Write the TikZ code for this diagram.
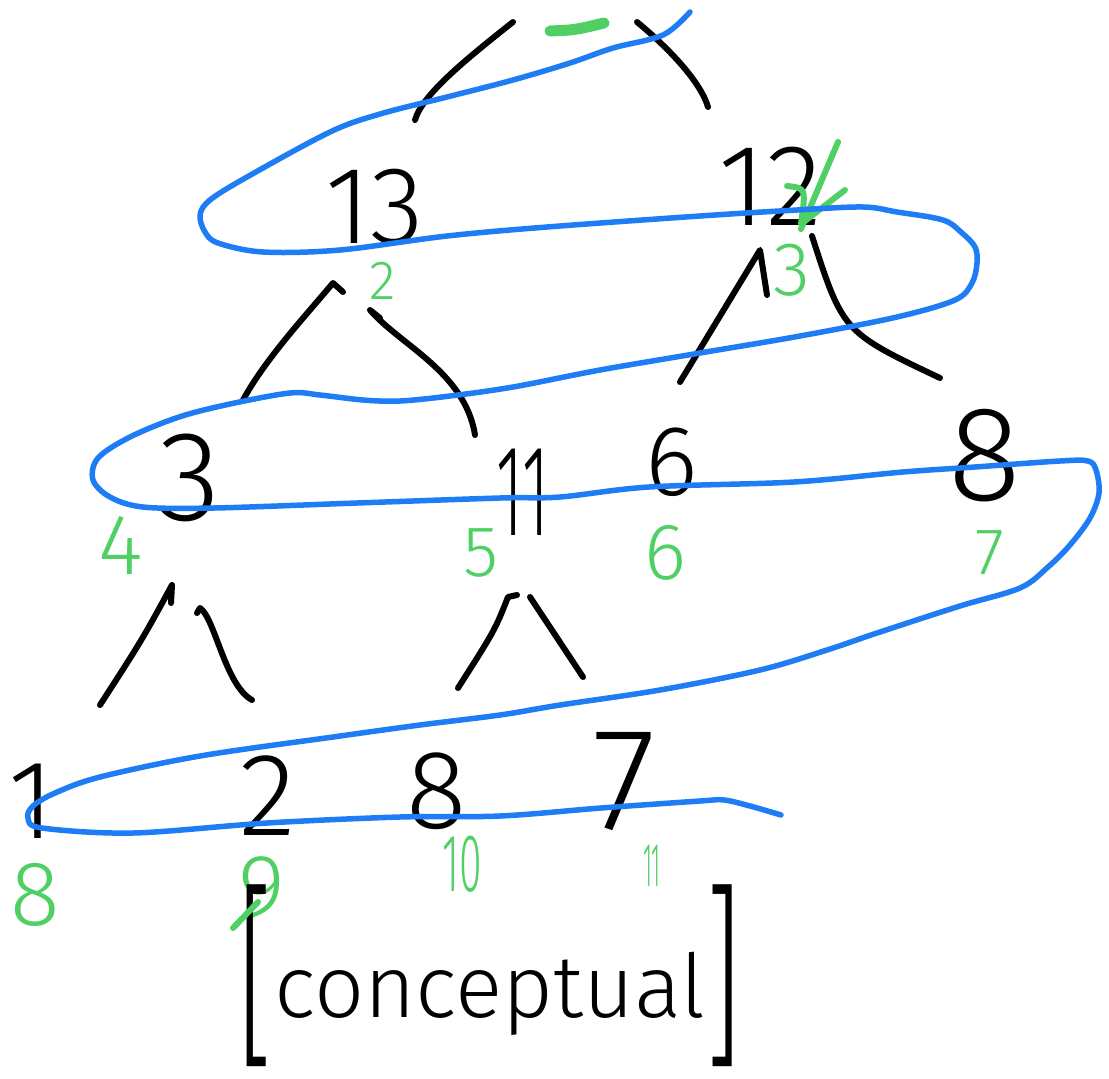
\documentclass[tikz,border=0pt]{standalone}
\usepackage{fontspec}
\usepackage{graphicx}
\usetikzlibrary{calc}
\IfFontExistsTF{Fira Sans Light}{\newfontfamily\hand{Fira Sans Light}}{\newfontfamily\hand{Fira Sans}}
\definecolor{blueink}{RGB}{30,124,245}
\definecolor{greenink}{RGB}{80,208,100}
\tikzset{
  num/.style={font={\hand\fontsize{#1}{#1}\selectfont}, inner sep=0pt, text=black},
  lab/.style={font={\hand\fontsize{#1}{#1}\selectfont}, inner sep=0pt, text=greenink},
  edge/.style={draw=black, line width=6pt, line cap=round, line join=round},
  bluestroke/.style={draw=blueink, line width=5.5pt, line cap=round, line join=round},
  greenstroke/.style={draw=greenink, line width=6pt, line cap=round, line join=round},
}
\begin{document}
\begin{tikzpicture}[x=1pt,y=-1pt]
\useasboundingbox[fill=white] (0,0) rectangle (1109,1079);

% tree nodes
\coordinate (root) at (575,-70);
\node[num=110] (n13) at (375,207) {13};
\node[num=116] (n12) at (770,186) {12};
\node[num=128] (n3)  at (190,478) {3};
\node[num=130] (n11) at (523,492) {\scalebox{0.5}[1]{11}};
\node[num=100] (n6)  at (672,462) {6};
\node[num=135] (n8a) at (985,456) {8};
\node[num=112] (n1)  at (32,801)  {1};
\node[num=118] (n2)  at (268,796) {2};
\node[num=112] (n8b) at (437,791) {8};
\node[num=146] (n7)  at (624,782) {7};

% green order labels
\node[lab=55] (g2)  at (383,281) {2};
\node[lab=76] (g3)  at (792,270) {3};
\node[lab=86] (g4)  at (121,545) {4};
\node[lab=72] (g5)  at (481,553) {5};
\node[lab=80] (g6)  at (665,553) {6};
\node[lab=66] (g7)  at (990,553) {7};
\node[lab=92] (g8)  at (35,895)  {8};
\node[lab=90] (g9)  at (262,888) {9};
\node[lab=82] (g10) at (462,864) {\scalebox{0.5}[1]{10}};
\node[lab=62] (g11) at (652,866) {\scalebox{0.35}[1]{11}};

% caption
\node[num=88, anchor=base] (cap) at (490,1017)
  {\raisebox{-27pt}{\scalebox{1.3}[2.25]{[}}conceptual\raisebox{-27pt}{\scalebox{1.3}[2.25]{]}}};

% tree edges
\draw[edge] ($(root)+(-62,92)$) .. controls ($(root)+(-110,130)$) and ($(n13)+(47,-112)$) .. ($(n13)+(40,-87)$);
\draw[edge] ($(root)+(62,92)$) .. controls ($(root)+(90,115)$) and ($(n12)+(-70,-106)$) .. ($(n12)+(-62,-79)$);
\draw[edge] ($(n13)+(-32,85)$) -- ($(n13)+(-42,76)$) .. controls ($(n13)+(-75,115)$) and ($(n3)+(75,-118)$) .. ($(n3)+(53,-78)$);
\draw[edge] ($(n13)+(5,111)$) -- ($(n13)+(-5,103)$) .. controls ($(n13)+(25,138)$) and ($(n11)+(-58,-120)$) .. ($(n11)+(-48,-57)$);
\draw[edge] ($(n12)+(-3,109)$) -- ($(n12)+(-10,64)$) -- ($(n6)+(8,-80)$);
\draw[edge] ($(n12)+(42,50)$) .. controls ($(n12)+(73,146)$) .. ($(n8a)+(-45,-78)$);
\draw[edge] ($(n3)+(-19,125)$) -- ($(n3)+(-18,107)$) .. controls ($(n3)+(-48,162)$) .. ($(n1)+(68,-96)$);
\draw[edge] ($(n3)+(7,135)$) -- ($(n3)+(10,130)$) .. controls ($(n3)+(25,140)$) and ($(n2)+(-43,-111)$) .. ($(n2)+(-16,-96)$);
\draw[edge] ($(n11)+(-6,103)$) -- ($(n11)+(-15,105)$) .. controls ($(n11)+(-28,138)$) .. ($(n8b)+(21,-103)$);
\draw[edge] ($(n11)+(7,105)$) -- ($(n7)+(-41,-105)$);

% green scribbles
\draw[greenstroke, line width=11pt] (550,31) .. controls (575,30) .. (604,23);
\draw[greenstroke] (838,142) -- (801,229);
\draw[greenstroke] (787,186) .. controls (806,188) .. (801,224) -- (845,190);
\draw[greenstroke] ($(g9)+(-4,14)$) -- ($(g9)+(-29,40)$);

% blue level loop
\draw[bluestroke] plot[smooth, tension=0.55] coordinates {
 (690,12) (663,35) (613,48) (570,63) (513,80) (447,97) (380,114) (330,132)
 (247,177) (210,200) (200,215) (205,232) (218,243) (263,252) (340,250)
 (447,236) (547,227) (700,216) (797,210) (863,207) (897,212) (943,220)
 (962,233) (975,247) (977,263) (972,283) (955,300) (897,317) (800,336)
 (700,353) (600,370) (513,387) (450,396) (400,401) (363,400) (320,395)
 (290,393) (230,404) (179,417) (130,437) (98,458) (93,480) (110,497)
 (143,507) (214,508) (357,503) (500,498) (560,497) (649,487) (794,482)
 (903,472) (975,467) (1060,461) (1088,461) (1096,470) (1099,493) (1090,518)
 (1070,545) (1048,567) (1020,588) (960,606) (877,633) (827,650) (760,670)
 (660,690) (560,705) (500,715) (420,725) (333,737) (200,756) (100,777)
 (55,793) (33,806) (28,818) (42,828) (133,833) (267,823) (400,817)
 (500,816) (601,808) (700,801) (724,800) (750,806) (781,815)};
\end{tikzpicture}
\end{document}
